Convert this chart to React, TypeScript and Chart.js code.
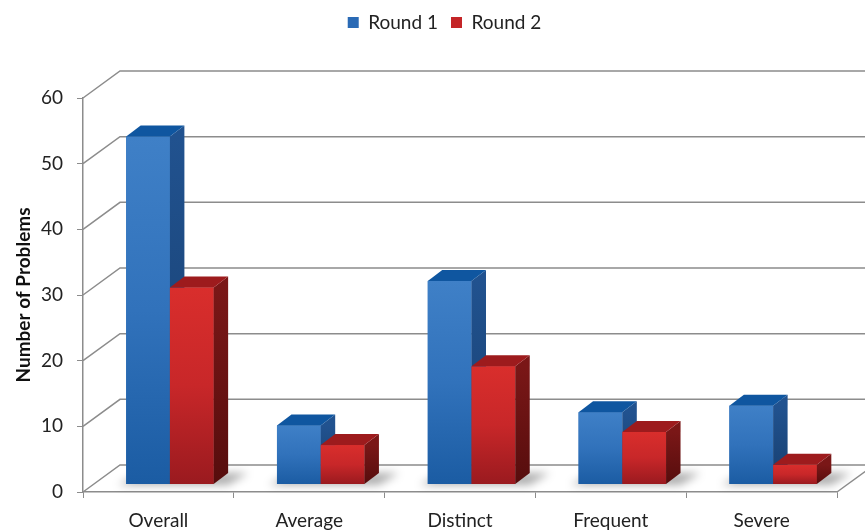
import React, { useEffect, useRef } from "react";
import { Chart, registerables } from "chart.js";

Chart.register(...registerables);

// ---- data ----
const categories = ["Overall", "Average", "Distinct", "Frequent", "Severe"];
const seriesNames = ["Round 1", "Round 2"];
const round1 = [53, 9, 31, 11, 12];
const round2 = [30, 6, 18, 8, 3];
const yMin = 0;
const yMax = 60;
const yStep = 10;
const yTitle = "Number of Problems";

const FONT = "Lato, 'Open Sans', 'DejaVu Sans', sans-serif";

// oblique projection used for the walls, floor and bar prisms
const WALL = { dx: 37, dy: -27 };
const BAR_FRONT = { dx: 11.5, dy: -7.5 };
const BAR_DEPTH = { dx: 14.5, dy: -11 };
const GRID_COLOR = "#8c8c8c";

const palette = [
  {
    legend: "#2a6ab5",
    front: ["#3f80c7", "#3172bb", "#1b5ca3"],
    top: "#0f56a0",
    side: ["#21528f", "#173f6f"],
  },
  {
    legend: "#c42527",
    front: ["#d92e2c", "#c82729", "#9a1a1f"],
    top: "#9d1b1d",
    side: ["#7a1717", "#560d0d"],
  },
];

// back wall, side wall and floor, drawn behind the bars
const wallsPlugin = {
  id: "walls3d",
  beforeDatasetsDraw(chart: any) {
    const { ctx, chartArea, scales } = chart;
    const ys = scales.y;
    const left = chartArea.left;
    const right = chartArea.right;
    const y0 = ys.getPixelForValue(0);

    ctx.save();
    ctx.strokeStyle = GRID_COLOR;
    ctx.lineWidth = 1.5;
    ys.ticks.forEach((t: any) => {
      const py = ys.getPixelForValue(t.value);
      ctx.beginPath();
      ctx.moveTo(left, py);
      ctx.lineTo(left + WALL.dx, py + WALL.dy);
      ctx.lineTo(chart.width + 2, py + WALL.dy);
      ctx.stroke();
    });
    // right edge of the floor
    ctx.beginPath();
    ctx.moveTo(right, y0);
    ctx.lineTo(right + WALL.dx, y0 + WALL.dy);
    ctx.stroke();

    // soft shadows cast on the floor by each bar pair
    const m0 = chart.getDatasetMeta(0).data;
    const m1 = chart.getDatasetMeta(1).data;
    ctx.filter = "blur(4px)";
    ctx.fillStyle = "rgba(0,0,0,0.32)";
    m0.forEach((a: any, i: number) => {
      const b = m1[i];
      if (!b) return;
      const pa = a.getProps(["x", "base", "width"], true);
      const pb = b.getProps(["x", "base", "width"], true);
      const l = pa.x - pa.width / 2 + BAR_FRONT.dx;
      const r = pb.x + pb.width / 2 + BAR_FRONT.dx;
      const base = pa.base + BAR_FRONT.dy;
      ctx.beginPath();
      ctx.moveTo(l - 8, base + 1);
      ctx.lineTo(r + 14, base + 1);
      ctx.lineTo(r + BAR_DEPTH.dx + 20, base + BAR_DEPTH.dy);
      ctx.lineTo(l + BAR_DEPTH.dx, base + BAR_DEPTH.dy);
      ctx.closePath();
      ctx.fill();
    });
    ctx.filter = "none";
    ctx.restore();

    // the bars live in a plane set slightly back from the front edge
    ctx.save();
    ctx.translate(BAR_FRONT.dx, BAR_FRONT.dy);
  },
  // shaded front, side and top faces, series by series
  afterDatasetsDraw(chart: any) {
    const ctx = chart.ctx;
    chart.data.datasets.forEach((_ds: any, di: number) => {
      const pal = palette[di];
      chart.getDatasetMeta(di).data.forEach((el: any) => {
        const { x, y, base, width } = el.getProps(["x", "y", "base", "width"], true);
        const x0 = x - width / 2;
        const x1 = x + width / 2;
        const h = base - y;

        const gf = ctx.createLinearGradient(0, y, 0, base);
        gf.addColorStop(0, pal.front[0]);
        gf.addColorStop(0.5, pal.front[1]);
        gf.addColorStop(1, pal.front[2]);
        ctx.fillStyle = gf;
        ctx.fillRect(x0, y, width, h);

        const gs = ctx.createLinearGradient(0, y, 0, base);
        gs.addColorStop(0, pal.side[0]);
        gs.addColorStop(1, pal.side[1]);
        ctx.fillStyle = gs;
        ctx.beginPath();
        ctx.moveTo(x1, y);
        ctx.lineTo(x1 + BAR_DEPTH.dx, y + BAR_DEPTH.dy);
        ctx.lineTo(x1 + BAR_DEPTH.dx, base + BAR_DEPTH.dy);
        ctx.lineTo(x1, base);
        ctx.closePath();
        ctx.fill();

        ctx.fillStyle = pal.top;
        ctx.beginPath();
        ctx.moveTo(x0, y);
        ctx.lineTo(x1, y);
        ctx.lineTo(x1 + BAR_DEPTH.dx, y + BAR_DEPTH.dy);
        ctx.lineTo(x0 + BAR_DEPTH.dx, y + BAR_DEPTH.dy);
        ctx.closePath();
        ctx.fill();
      });
    });
    ctx.restore();
  },
};

// fixed legend band above the plot
const legendBandPlugin = {
  id: "legendBand",
  afterInit(chart: any) {
    const legend = chart.legend;
    if (!legend || legend.__banded) return;
    const fit = legend.fit.bind(legend);
    legend.fit = function () {
      fit();
      this.height = 98;
    };
    legend.__banded = true;
  },
  afterLayout(chart: any) {
    const legend = chart.legend;
    if (!legend) return;
    legend.left += 26;
    legend.right += 26;
  },
};

export default function App() {
  const canvasRef = useRef<HTMLCanvasElement | null>(null);

  useEffect(() => {
    const canvas = canvasRef.current;
    if (!canvas) return;
    const chart = new Chart(canvas, {
      type: "bar",
      data: {
        labels: categories,
        datasets: [
          {
            label: seriesNames[0],
            data: round1,
            backgroundColor: palette[0].legend,
            borderWidth: 0,
            clip: false as any,
          },
          {
            label: seriesNames[1],
            data: round2,
            backgroundColor: palette[1].legend,
            borderWidth: 0,
            clip: false as any,
          },
        ],
      },
      options: {
        animation: false,
        responsive: false,
        maintainAspectRatio: false,
        events: [],
        layout: { padding: { left: 0, right: 28, top: 0, bottom: 0 } },
        datasets: {
          bar: { categoryPercentage: 0.58, barPercentage: 1.0 },
        },
        plugins: {
          tooltip: { enabled: false },
          legend: {
            position: "top",
            labels: {
              boxWidth: 11,
              boxHeight: 11,
              padding: 13,
              color: "#222",
              font: { family: FONT, size: 19 },
            },
          },
        },
        scales: {
          x: {
            type: "category",
            grid: {
              display: true,
              drawOnChartArea: false,
              drawTicks: true,
              tickLength: 6,
              color: GRID_COLOR,
              offset: true,
            },
            border: { display: true, color: GRID_COLOR, width: 1.5 },
            ticks: {
              color: "#222",
              padding: 11,
              font: { family: FONT, size: 19 },
              maxRotation: 0,
            },
            afterFit: (scale: any) => {
              scale.height = 39;
            },
          },
          y: {
            type: "linear",
            min: yMin,
            max: yMax,
            ticks: {
              stepSize: yStep,
              color: "#222",
              padding: 14,
              font: { family: FONT, size: 19 },
            },
            grid: {
              display: true,
              drawOnChartArea: false,
              drawTicks: true,
              tickLength: 6,
              color: GRID_COLOR,
            },
            border: { display: true, color: GRID_COLOR, width: 1.5 },
            title: {
              display: true,
              text: yTitle,
              color: "#111",
              font: { family: FONT, size: 19, weight: "bold" },
              padding: { top: 12, bottom: 0 },
            },
            afterFit: (scale: any) => {
              scale.width = 83;
            },
          },
        },
      },
      plugins: [wallsPlugin, legendBandPlugin],
    });
    return () => chart.destroy();
  }, []);

  return (
    <div style={{ position: "fixed", left: 0, top: 0, width: 865, height: 531, background: "#fff" }}>
      <canvas ref={canvasRef} width={865} height={531} style={{ display: "block" }} />
    </div>
  );
}
